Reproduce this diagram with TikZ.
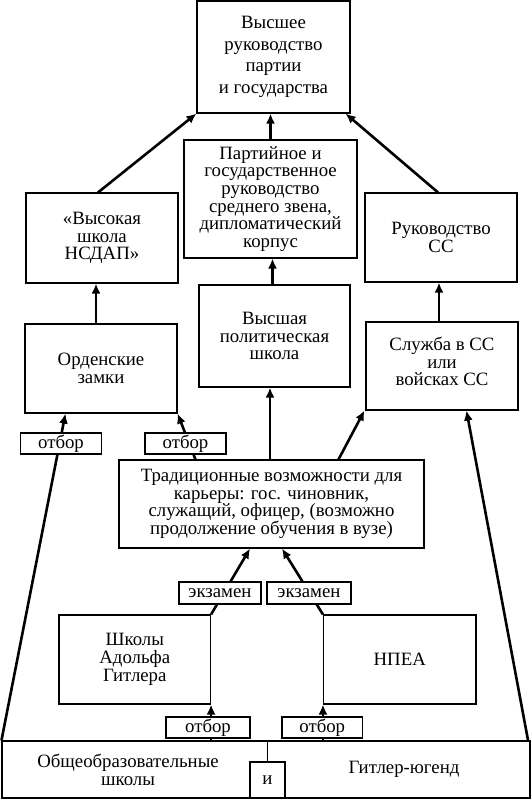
\documentclass[tikz,border=0pt]{standalone}
\usepackage{fontspec}
\setmainfont{Liberation Serif}
\usetikzlibrary{arrows.meta,calc}
\begin{document}
\begin{tikzpicture}[x=1pt,y=-1pt,
  bx/.style={draw, line width=1.1pt, inner sep=0pt, align=center, fill=white,
    font=\fontsize{18.8}{17.7}\selectfont},
  tag/.style={bx, font=\fontsize{18.8}{17.7}\selectfont},
  txt/.style={inner sep=0pt, align=center, font=\fontsize{18.8}{17.7}\selectfont},
  arr/.style={line width=2.6pt, -{Latex[length=10pt,width=9pt]}},
  ln/.style={line width=1.1pt}
]
\useasboundingbox (0,0) rectangle (531,800);
% boxes
\node[bx, minimum width=153pt, minimum height=112pt, font=\fontsize{18.8}{21.7}\selectfont] (top) at (273.5,57)
  {Высшее\\руководство\\партии\\и государства};
\node[bx, minimum width=173pt, minimum height=118pt] (mid) at (270.5,199)
  {Партийное и\\государственное\\руководство\\среднего звена,\\дипломатический\\корпус};
\node[bx, minimum width=152pt, minimum height=90pt] (left) at (102,238)
  {«Высокая\\школа\\НСДАП»};
\node[bx, minimum width=152pt, minimum height=89pt] (right) at (441,237.5)
  {Руководство\\СС};
\node[bx, minimum width=151pt, minimum height=102pt] (vps) at (274.5,336)
  {Высшая\\политическая\\школа};
\node[bx, minimum width=152pt, minimum height=89pt] (orden) at (101,368.5)
  {Орденские\\замки};
\node[bx, minimum width=152pt, minimum height=88pt, text depth=9pt] (sluzhba) at (442,366)
  {Служба в СС\\или\\войсках СС};
\node[bx, minimum width=305pt, minimum height=88pt] (trad) at (271.5,504)
  {Традиционные возможности для\\карьеры: гос. чиновник,\\служащий, офицер, (возможно\\продолжение обучения в вузе)};
\node[bx, minimum width=151.5pt, minimum height=89pt] (shkoly) at (134.75,659.5)
  {Школы\\Адольфа\\Гитлера};
\node[bx, minimum width=152.5pt, minimum height=89pt] (npea) at (399.75,659.5)
  {НПЕА};
\node[bx, minimum width=528pt, minimum height=57pt] (bottom) at (266,769.5) {};
\node[txt] (obsh) at (128,770) {Общеобразовательные\\школы};
\node[txt] (hj) at (404,769) {Гитлер-югенд};
\node[tag, minimum width=35pt, minimum height=36pt] (ibox) at (267.5,780) {и};
\draw[ln] (ibox.north |- bottom.north) -- (ibox.north);
% connectors
\draw[arr] ([xshift=-4pt]left.north) -- (top.south west);
\draw[arr] (mid.north) -- (mid.north |- top.south);
\draw[arr] ([xshift=-3pt]right.north) -- ([xshift=-5pt]top.south east);
\draw[arr] ([xshift=-2pt]vps.north) -- ([xshift=-2pt]vps.north |- mid.south);
\draw[arr] ([xshift=-5pt]orden.north) -- ([xshift=-5pt]orden.north |- left.south);
\draw[arr] ([xshift=-3pt]sluzhba.north) -- ([xshift=-3pt]sluzhba.north |- right.south);
\draw[arr] (bottom.north west) -- ([xshift=41pt]orden.south west);
\draw[arr] ([xshift=77pt]trad.north west) -- (orden.south east);
\draw[arr] ([xshift=-1.5pt]trad.north) -- ([xshift=-1.5pt]trad.north |- vps.south);
\draw[arr] ([xshift=67pt]trad.north) -- ([xshift=-1pt]sluzhba.south west);
\draw[arr] ([xshift=-2.5pt]bottom.north east) -- ([xshift=101pt]sluzhba.south west);
\draw[arr] (shkoly.south east |- bottom.north) -- (shkoly.south east);
\draw[arr] (npea.south west |- bottom.north) -- (npea.south west);
\draw[arr] (shkoly.north east) -- ([xshift=-21.5pt]trad.south);
\draw[arr] (npea.north west) -- ([xshift=10.5pt]trad.south);
% labels on connectors
\node[tag, minimum width=81pt, minimum height=21pt] (otb1) at (61,443.5) {отбор};
\node[tag, minimum width=81pt, minimum height=21pt] (otb2) at (185.5,443.5) {отбор};
\node[tag, minimum width=82pt, minimum height=22pt] (ex1) at (220,593) {экзамен};
\node[tag, minimum width=84pt, minimum height=22pt] (ex2) at (309,593) {экзамен};
\node[tag, minimum width=84pt, minimum height=21pt] (otb3) at (208,727.5) {отбор};
\node[tag, minimum width=80.5pt, minimum height=21pt] (otb4) at (322.25,727.5) {отбор};
\end{tikzpicture}
\end{document}
